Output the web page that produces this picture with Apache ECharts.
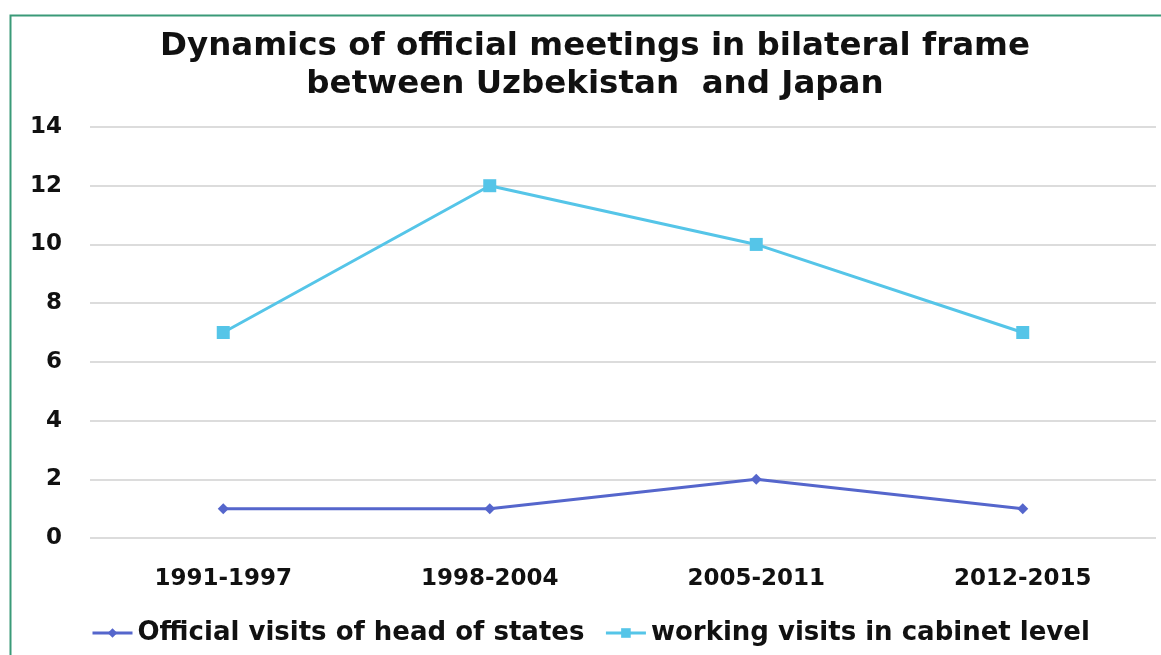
<!DOCTYPE html>
<html>
<head>
<meta charset="utf-8">
<script src="https://cdn.jsdelivr.net/npm/echarts@6/dist/echarts.min.js"></script>
<style>html,body{margin:0;padding:0;background:#fff}#c{width:1161px;height:655px}</style>
</head>
<body>
<div id="c"></div>
<script>
const categories = ['1991-1997', '1998-2004', '2005-2011', '2012-2015'];
const officialVisits = [1, 1, 2, 1];
const workingVisits = [7, 12, 10, 7];
const yTicks = { min: 0, max: 14, interval: 2 };
const seriesNames = ['Official visits of head of states', 'working visits in cabinet level'];

const chart = echarts.init(document.getElementById('c'));
chart.setOption({
  backgroundColor: '#ffffff',
  animation: false,
  graphic: [{
    type: 'rect', left: 8, top: 13, shape: { width: 1200, height: 700 },
    style: { fill: 'none', stroke: '#3a9a78', lineWidth: 2 }
  }],
  title: {
    text: 'Dynamics of official meetings in bilateral frame\nbetween Uzbekistan  and Japan',
    left: 590, top: 23, textAlign: 'center',
    textStyle: { fontFamily: 'DejaVu Sans', fontWeight: 'bold', fontSize: 32.5, lineHeight: 38, color: '#111' }
  },
  legend: {
    bottom: 4, left: 86,
    itemWidth: 40, itemHeight: 12, itemGap: 20,
    lineStyle: { width: 3 },
    textStyle: { fontFamily: 'DejaVu Sans', fontWeight: 'bold', fontSize: 26, color: '#111' },
    data: seriesNames
  },
  grid: { left: 90, right: 5, top: 127, bottom: 117 },
  xAxis: {
    type: 'category', data: categories, boundaryGap: true,
    axisLine: { show: false }, axisTick: { show: false },
    axisLabel: { fontFamily: 'DejaVu Sans', fontWeight: 'bold', fontSize: 23, color: '#111', margin: 30 }
  },
  yAxis: {
    type: 'value', min: yTicks.min, max: yTicks.max, interval: yTicks.interval,
    axisLine: { show: false }, axisTick: { show: false },
    axisLabel: { fontFamily: 'DejaVu Sans', fontWeight: 'bold', fontSize: 23, color: '#111', margin: 28 },
    splitLine: { lineStyle: { color: '#dcdcdc', width: 2 } }
  },
  series: [{
    name: seriesNames[0], type: 'line', data: officialVisits,
    symbol: 'diamond', symbolSize: 11,
    lineStyle: { color: '#5566cc', width: 3 },
    itemStyle: { color: '#5566cc' }
  }, {
    name: seriesNames[1], type: 'line', data: workingVisits,
    symbol: 'rect', symbolSize: 13,
    lineStyle: { color: '#55c5e8', width: 3 },
    itemStyle: { color: '#55c5e8' }
  }]
});
</script>
</body>
</html>
